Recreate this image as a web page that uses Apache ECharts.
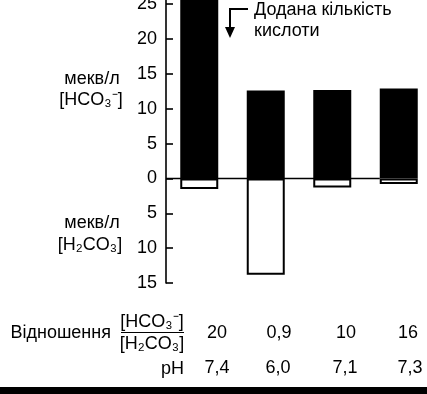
<!DOCTYPE html>
<html>
<head>
<meta charset="utf-8">
<script src="https://cdn.jsdelivr.net/npm/echarts@6/dist/echarts.min.js"></script>
<style>html,body{margin:0;padding:0;background:#fff}#c{width:427px;height:394px}</style>
</head>
<body>
<div id="c"></div>
<script>
const categories = ['1', '2', '3', '4'];
const hco3Values = [25.6, 12.6, 12.7, 12.9];
const h2co3Values = [-1.5, -13.8, -1.3, -0.8];
const yTickValues = [-15, -10, -5, 0, 5, 10, 15, 20, 25];
const ratioLabels = ['20', '0,9', '10', '16'];
const phLabels = ['7,4', '6,0', '7,1', '7,3'];
const ratioX = [217, 279, 346, 408];
const phX = [217, 278, 345, 410];

const FONT = '"Liberation Sans", Arial, sans-serif';
const FS = 18;
const chart = echarts.init(document.getElementById('c'), null, {renderer: 'canvas'});

const txt = (x, y, text, size, align) => ({
  type: 'text', x: x, y: y, z: 10,
  style: {text: text, fill: '#000', font: size + 'px ' + FONT, align: align || 'center', verticalAlign: 'middle'}
});

const option = {
  animation: false,
  backgroundColor: '#fff',
  grid: {left: 166, top: 0, width: 266, height: 283, containLabel: false, outerBoundsMode: 'none'},
  xAxis: {
    type: 'category', data: categories,
    axisLine: {show: false}, axisTick: {show: false}, axisLabel: {show: false}, splitLine: {show: false}
  },
  yAxis: {
    type: 'value', min: -15, max: 25.6,
    axisLine: {show: true, onZero: false, lineStyle: {color: '#000', width: 1.6}},
    axisTick: {show: true, inside: true, length: 7, customValues: yTickValues, lineStyle: {color: '#000', width: 1.6}},
    axisLabel: {margin: 9, color: '#000', fontSize: FS, fontFamily: FONT, customValues: yTickValues, formatter: v => String(Math.abs(v))},
    splitLine: {show: false}
  },
  series: [
    {
      type: 'bar', data: hco3Values, barWidth: 38, barGap: '-100%',
      itemStyle: {color: '#000'}, z: 3
    },
    {
      type: 'bar', data: h2co3Values, barWidth: 38, barGap: '-100%',
      itemStyle: {color: '#fff', borderColor: '#000', borderWidth: 2}, z: 3
    }
  ]
};
chart.setOption(option);

const zeroY = chart.convertToPixel({yAxisIndex: 0}, 0);
const axisX = chart.convertToPixel({xAxisIndex: 0}, categories[0]) - 33.25;
const lastX = chart.convertToPixel({xAxisIndex: 0}, categories[3]) - 19;

const graphic = [
  {type: 'line', z: 1, shape: {x1: axisX, y1: zeroY, x2: lastX, y2: zeroY}, style: {stroke: '#000', lineWidth: 1.5}},
  {type: 'polyline', z: 10, shape: {points: [[248, 9], [230, 9], [230, 30]]}, style: {stroke: '#000', lineWidth: 2, fill: null}},
  {type: 'polygon', z: 10, shape: {points: [[225, 27], [235, 27], [230, 38]]}, style: {fill: '#000'}},
  txt(254, 10, 'Додана кількість', FS, 'left'),
  txt(254, 31, 'кислоти', FS, 'left'),
  txt(92, 79, 'мекв/л', FS),
  txt(91, 100, '[HCO₃⁻]', FS),
  txt(92, 223, 'мекв/л', FS),
  txt(90, 245, '[H₂CO₃]', FS),
  txt(111, 333, 'Відношення', FS, 'right'),
  txt(152, 322, '[HCO₃⁻]', FS),
  {type: 'line', z: 10, shape: {x1: 121, y1: 332.5, x2: 184, y2: 332.5}, style: {stroke: '#000', lineWidth: 1.2}},
  txt(152, 344, '[H₂CO₃]', FS),
  txt(184, 369, 'pH', FS, 'right'),
  {type: 'rect', z: 10, shape: {x: 0, y: 387, width: 427, height: 7}, style: {fill: '#000'}}
];
ratioLabels.forEach((t, i) => graphic.push(txt(ratioX[i], 333, t, FS)));
phLabels.forEach((t, i) => graphic.push(txt(phX[i], 368, t, FS)));
chart.setOption({graphic: graphic});
</script>
</body>
</html>
